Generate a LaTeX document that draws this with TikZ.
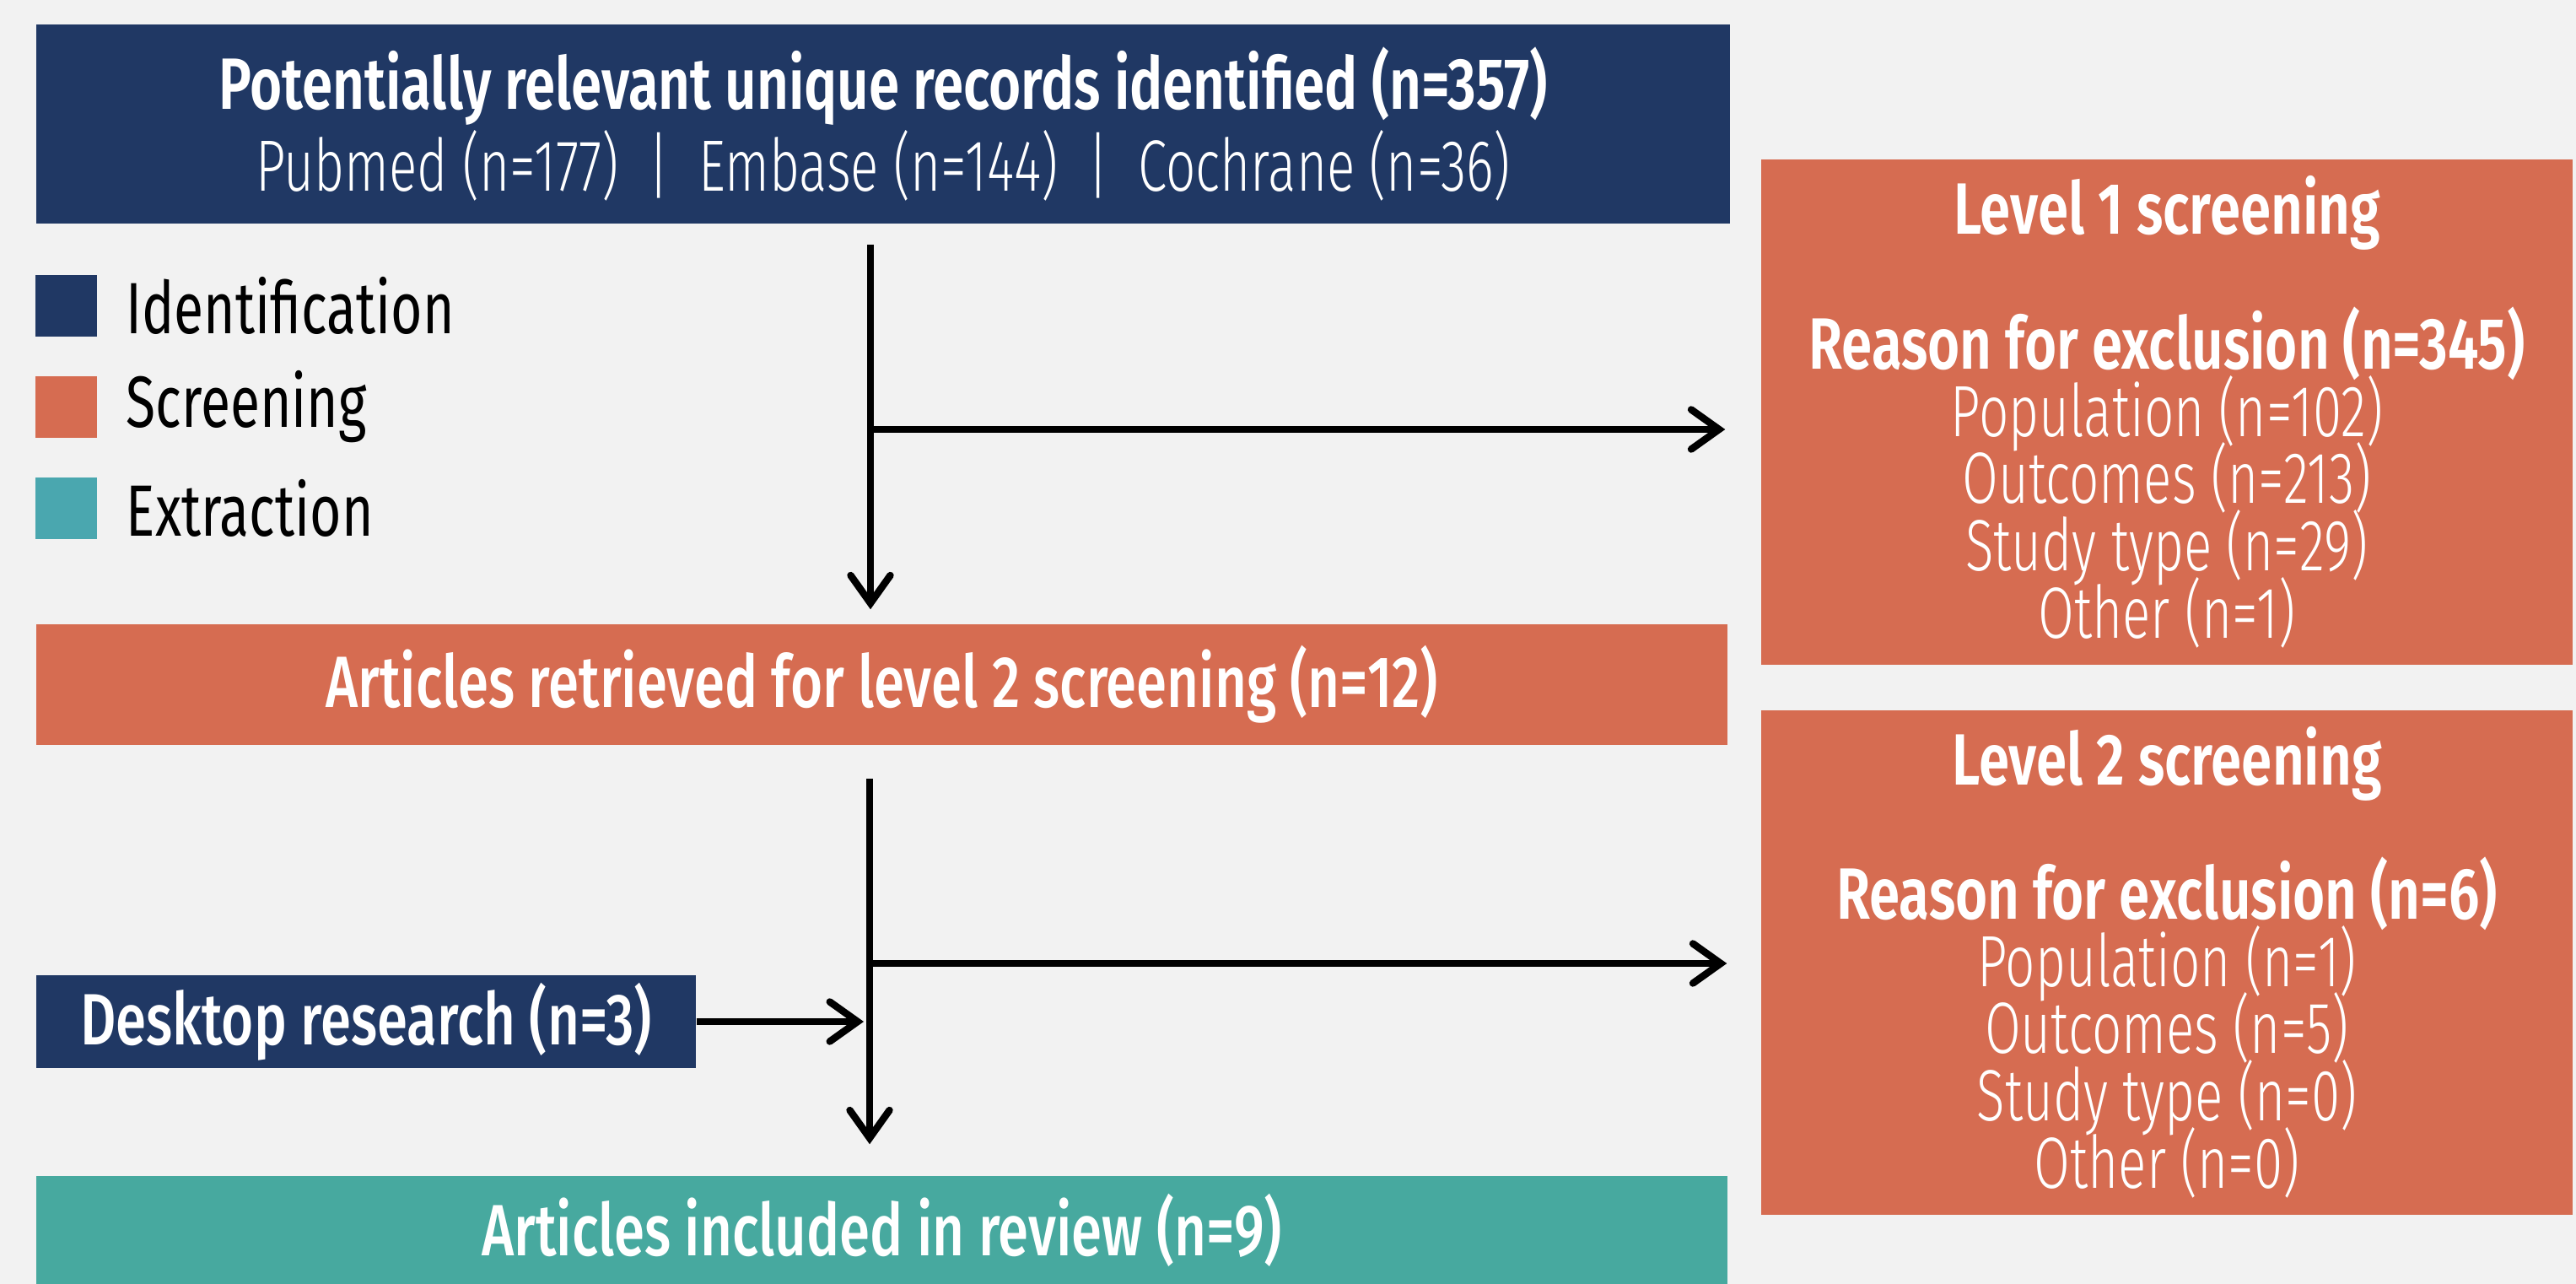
\documentclass[tikz,border=0pt]{standalone}
\usepackage{fontspec}
\setmainfont{Fira Sans}[FakeStretch=0.745]
\newfontfamily\flight{Fira Sans Light}[FakeStretch=0.72]
\newfontfamily\fmed{Fira Sans Medium}[FakeStretch=0.76]
\newfontfamily\fsemi{Fira Sans SemiBold}[FakeStretch=0.76]
\usetikzlibrary{arrows.meta}
\definecolor{idblue}{HTML}{203864}
\definecolor{scrorange}{HTML}{D66C51}
\definecolor{extteal}{HTML}{47A99F}
\definecolor{keyteal}{HTML}{4AA7AF}
\definecolor{bggray}{HTML}{F2F2F2}

\begin{document}
\begin{tikzpicture}
    \lineskiplimit=-30pt\relax
    \tikzset{stage/.style = {shape=rectangle,inner sep=0pt,text=white,align=center,font=\fontsize{24.5}{22.7}\selectfont}}
    \tikzset{key/.style = {shape=rectangle,minimum size=0.73cm,inner sep=0pt}}
    \tikzset{keytext/.style = {anchor=west,inner sep=0pt,font=\fontsize{24.5}{24.5}\selectfont}}
    \tikzset{edge/.style = {-{Straight Barb[length=3.3mm,width=4.7mm,line cap=round]},line width=2.4pt}}
    \fill[bggray] (0,0) rectangle (30.54,-15.22);
    \useasboundingbox (0,0) rectangle (30.54,-15.22);
    % boxes
    \node[stage,fill=idblue,minimum width=20.08cm,minimum height=2.36cm,font=\fontsize{24.5}{27.8}\selectfont] (ident) at (10.47,-1.47)
        {{\fsemi Potentially relevant unique records identified (n=357)}\\
         {\flight Pubmed (n=177) ~|~ Embase (n=144) ~|~ Cochrane (n=36)}};
    \node[stage,fill=scrorange,minimum width=20.05cm,minimum height=1.43cm] (retr) at (10.455,-8.115)
        {\fmed Articles retrieved for level 2 screening (n=12)};
    \node[stage,fill=idblue,minimum width=7.82cm,minimum height=1.10cm] (desk) at (4.34,-12.11)
        {\fmed Desktop research (n=3)};
    \node[stage,fill=extteal,minimum width=20.05cm,minimum height=1.28cm] (incl) at (10.455,-14.58)
        {\fmed Articles included in review (n=9)};
    \node[stage,fill=scrorange,minimum width=9.62cm,minimum height=5.99cm] (lvl1) at (25.69,-4.885)
        {{\fsemi Level 1 screening}\\[22.7pt]
         {\fsemi Reason for exclusion (n=345)}\\
         {\flight Population (n=102)}\\
         {\flight Outcomes (n=213)}\\
         {\flight Study type (n=29)}\\
         {\flight Other (n=1)}};
    \node[stage,fill=scrorange,minimum width=9.62cm,minimum height=5.98cm] (lvl2) at (25.69,-11.41)
        {{\fsemi Level 2 screening}\\[22.4pt]
         {\fsemi Reason for exclusion (n=6)}\\
         {\flight Population (n=1)}\\
         {\flight Outcomes (n=5)}\\
         {\flight Study type (n=0)}\\
         {\flight Other (n=0)}};
    % legend
    \node[key,fill=idblue] (k1) at (0.785,-3.625) {};
    \node[key,fill=scrorange] (k2) at (0.785,-4.825) {};
    \node[key,fill=keyteal] (k3) at (0.785,-6.025) {};
    \node[keytext] (t1) at (1.49,-3.625) {Identification};
    \node[keytext] (t2) at (1.49,-4.825) {Screening};
    \node[keytext] (t3) at (1.49,-6.025) {Extraction};
    % junctions
    \coordinate (s1) at (10.32,-2.90);
    \coordinate (j1) at (10.32,-5.09);
    \coordinate (s2) at (10.31,-9.23);
    \coordinate (j2) at (10.31,-11.42);
    %edges
    \draw[edge,shorten >=0.17cm] (s1) -- (s1 |- retr.north);
    \draw[edge,shorten >=0.42cm] (j1) -- (j1 -| lvl1.west);
    \draw[edge,shorten >=0.37cm] (s2) -- (s2 |- incl.north);
    \draw[edge,shorten >=0.40cm] (j2) -- (j2 -| lvl2.west);
    \draw[edge,shorten >=0.07cm] (desk.east) -- (desk.east -| s2);
\end{tikzpicture}
\end{document}
